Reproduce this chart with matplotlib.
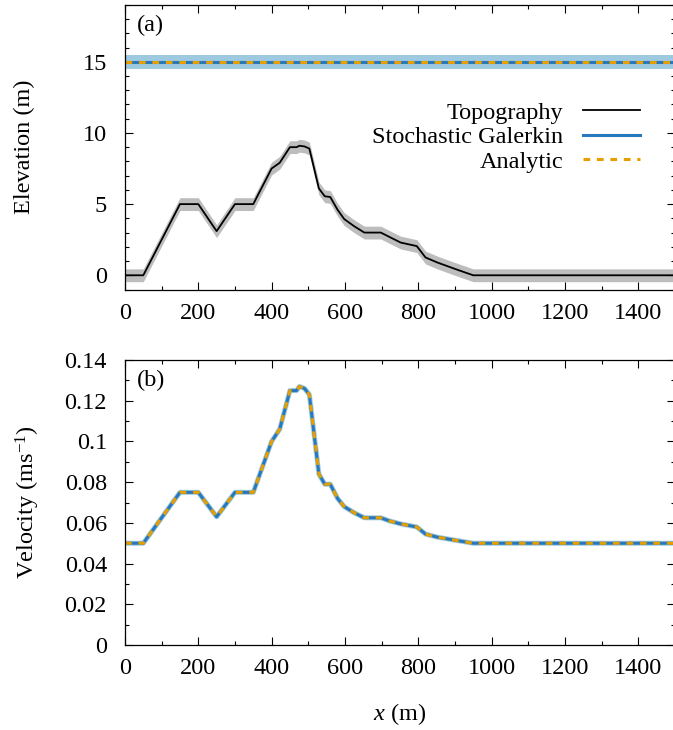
import numpy as np
import matplotlib
matplotlib.use("Agg")
import matplotlib.pyplot as plt
from matplotlib.ticker import MultipleLocator, FuncFormatter

# Values
x_m = [0, 50, 150, 200, 250, 300, 350, 400, 422, 450, 468, 476, 490, 503,
       529, 545, 560, 580, 598, 625, 653, 698, 721, 752, 796, 820, 852, 900,
       950, 1500]
topo = [0, 0, 5, 5, 3.1, 5, 5, 7.5, 7.9, 9.0, 9.0, 9.1, 9.05, 8.9,
        6.1, 5.55, 5.5, 4.6, 3.95, 3.45, 3.0, 3.0, 2.7, 2.3, 2.05, 1.25, 0.9, 0.45,
        0, 0]
topo_std = 0.45
velocity = [0.05, 0.05, 0.075, 0.075, 0.063, 0.075, 0.075, 0.100, 0.106, 0.125,
            0.125, 0.127, 0.126, 0.123, 0.084, 0.079, 0.079, 0.072, 0.068, 0.065,
            0.0625, 0.0625, 0.061, 0.0595, 0.058, 0.0545, 0.053, 0.0515, 0.05, 0.05]
surf_x = [0, 1500]
surf_sg = [15, 15]
surf_analytic = [15, 15]
surf_std = 0.5
elev_ticks = [0, 5, 10, 15]
vel_ticks = [0, 0.02, 0.04, 0.06, 0.08, 0.1, 0.12, 0.14]
x_ticks = [0, 200, 400, 600, 800, 1000, 1200, 1400]

BLUE = "#2878bd"
LIGHT_BLUE = "#9ecae1"
ORANGE = "#e69f00"
GREY = "#bdbdbd"
FS = 17.5

plt.rcParams["font.family"] = ["Liberation Serif", "DejaVu Serif"]
plt.rcParams["mathtext.fontset"] = "custom"
plt.rcParams["mathtext.rm"] = "Liberation Serif"
plt.rcParams["mathtext.it"] = "Liberation Serif:italic"
plt.rcParams["font.size"] = FS
plt.rcParams["axes.linewidth"] = 0.9


def style_axis(ax):
    ax.tick_params(which="both", direction="in", top=True, right=True, width=0.8)
    ax.tick_params(which="major", length=5.8)
    ax.tick_params(which="minor", length=2.9)
    ax.tick_params(axis="y", pad=13)
    ax.tick_params(axis="x", pad=9.5)
    ax.set_xlim(0, 1500)
    ax.set_xticks(x_ticks)
    ax.xaxis.set_minor_locator(MultipleLocator(100))


fig = plt.figure(figsize=(6.73, 7.30), dpi=100)
ax1 = fig.add_axes([0.1857, 0.6034, 0.817, 0.39])
ax2 = fig.add_axes([0.1857, 0.1164, 0.817, 0.3904])

# (a) elevation
topo_arr = np.array(topo)
ax1.fill_between(x_m, topo_arr - topo_std, topo_arr + topo_std, color=GREY, lw=0)
ax1.fill_between(surf_x, np.array(surf_sg) - surf_std, np.array(surf_sg) + surf_std,
                 color=LIGHT_BLUE, lw=0)
ax1.plot(x_m, topo, color="black", lw=1.3, label="Topography")
ax1.plot(surf_x, surf_sg, color=BLUE, lw=2.2, label="Stochastic Galerkin")
ax1.plot(surf_x, surf_analytic, color=ORANGE, lw=2.2, dashes=(2.2, 2.2),
         label="Analytic")
style_axis(ax1)
ax1.set_ylim(-1, 19)
ax1.set_yticks(elev_ticks)
ax1.yaxis.set_minor_locator(MultipleLocator(1))
ax1.set_ylabel("Elevation (m)")
ax1.yaxis.set_label_coords(-0.164, 0.5)
ax1.text(0.022, 0.965, "(a)", transform=ax1.transAxes, va="top", ha="left")
ax1.legend(loc="upper right", bbox_to_anchor=(0.936, 0.66), frameon=False,
           markerfirst=False, handlelength=2.35, handletextpad=0.8,
           labelspacing=0.1, borderpad=0, borderaxespad=0)

# (b) velocity
ax2.plot(x_m, velocity, color=LIGHT_BLUE, lw=3.6, solid_joinstyle="round")
ax2.plot(x_m, velocity, color=BLUE, lw=2.2, solid_joinstyle="round")
ax2.plot(x_m, velocity, color=ORANGE, lw=2.2, dashes=(2.2, 2.2),
         dash_joinstyle="round")
style_axis(ax2)
ax2.set_ylim(0, 0.14)
ax2.set_yticks(vel_ticks)
ax2.yaxis.set_major_formatter(FuncFormatter(lambda v, p: "{:g}".format(round(v, 3))))
ax2.yaxis.set_minor_locator(MultipleLocator(0.01))
ax2.set_ylabel(r"Velocity (ms$^{-1}$)")
ax2.yaxis.set_label_coords(-0.151, 0.5)
ax2.set_xlabel(r"$x$ (m)", labelpad=16)
ax2.text(0.022, 0.965, "(b)", transform=ax2.transAxes, va="top", ha="left")

fig.savefig("out.png", dpi=100)
